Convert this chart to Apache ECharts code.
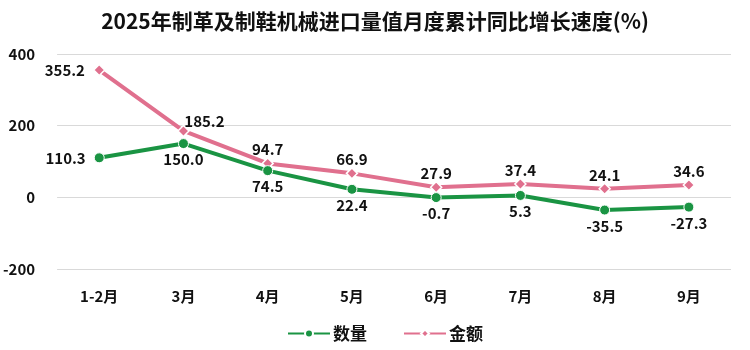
<!DOCTYPE html>
<html>
<head>
<meta charset="utf-8">
<script src="https://cdn.jsdelivr.net/npm/echarts@6/dist/echarts.min.js"></script>
<style>
  html, body { margin: 0; padding: 0; background: #fff; }
  #chart { width: 750px; height: 350px; }
</style>
</head>
<body>
<div id="chart"></div>
<script>
// 2025年制革及制鞋机械进口量值月度累计同比增长速度
const months = ['1-2月', '3月', '4月', '5月', '6月', '7月', '8月', '9月'];
const quantity = [110.3, 150.0, 74.5, 22.4, -0.7, 5.3, -35.5, -27.3];
const amount = [355.2, 185.2, 94.7, 66.9, 27.9, 37.4, 24.1, 34.6];
const yTicks = [-200, 0, 200, 400];

const FONT = '"Noto Sans CJK SC", "Noto Sans", sans-serif';
const GREEN = '#1a9443';
const PINK = '#e0708e';

// label placement per point
const qtyPos = ['left', 'bottom', 'bottom', 'bottom', 'bottom', 'bottom', 'bottom', 'bottom'];
const amtPos = ['left', 'top', 'top', 'top', 'top', 'top', 'top', 'top'];

const labelStyle = {
  fontFamily: FONT, fontWeight: 'bold', fontSize: 15, color: '#111'
};

const chart = echarts.init(document.getElementById('chart'));
chart.setOption({
  animation: false,
  title: {
    text: '2025年制革及制鞋机械进口量值月度累计同比增长速度(%)',
    left: 'center', top: 6,
    textStyle: { fontFamily: FONT, fontWeight: 'bold', fontSize: 21, color: '#111' }
  },
  legend: {
    bottom: 3, left: 282, itemGap: 36, itemWidth: 42, itemHeight: 10,
    textStyle: { fontFamily: FONT, fontWeight: 'bold', fontSize: 17, color: '#111', padding: [0, 0, 0, -2] },
    data: ['数量', '金额']
  },
  grid: { left: 57, right: 19, top: 54, bottom: 81 },
  xAxis: {
    type: 'category', data: months, boundaryGap: true,
    axisLine: { show: false }, axisTick: { show: false },
    axisLabel: { fontFamily: FONT, fontWeight: 'bold', fontSize: 15, color: '#111', margin: 20 }
  },
  yAxis: {
    type: 'value', min: yTicks[0], max: yTicks[yTicks.length - 1], interval: 200,
    axisLine: { show: false }, axisTick: { show: false },
    axisLabel: { fontFamily: FONT, fontWeight: 'bold', fontSize: 15, color: '#111', margin: 22 },
    splitLine: { lineStyle: { color: '#d9d9d9', width: 1 } }
  },
  series: [
    {
      name: '数量', type: 'line', data: quantity.map((v, i) => ({
        value: v, label: { position: qtyPos[i], distance: i === 0 ? 8 : 3 }
      })),
      symbol: 'circle', symbolSize: 10,
      lineStyle: { color: GREEN, width: 4 },
      itemStyle: { color: GREEN, borderColor: '#fff', borderWidth: 1 },
      label: { show: true, formatter: p => p.value.toFixed(1), ...labelStyle },
      z: 3
    },
    {
      name: '金额', type: 'line', data: amount.map((v, i) => ({
        value: v, label: {
          position: amtPos[i], distance: i === 0 ? 8 : 0,
          offset: i === 1 ? [21, 4] : [0, 0]
        }
      })),
      symbol: 'diamond', symbolSize: 11,
      lineStyle: { color: PINK, width: 4 },
      itemStyle: { color: PINK, borderColor: '#fff', borderWidth: 1.5 },
      label: { show: true, formatter: p => p.value.toFixed(1), ...labelStyle },
      z: 2
    }
  ]
});
</script>
</body>
</html>
